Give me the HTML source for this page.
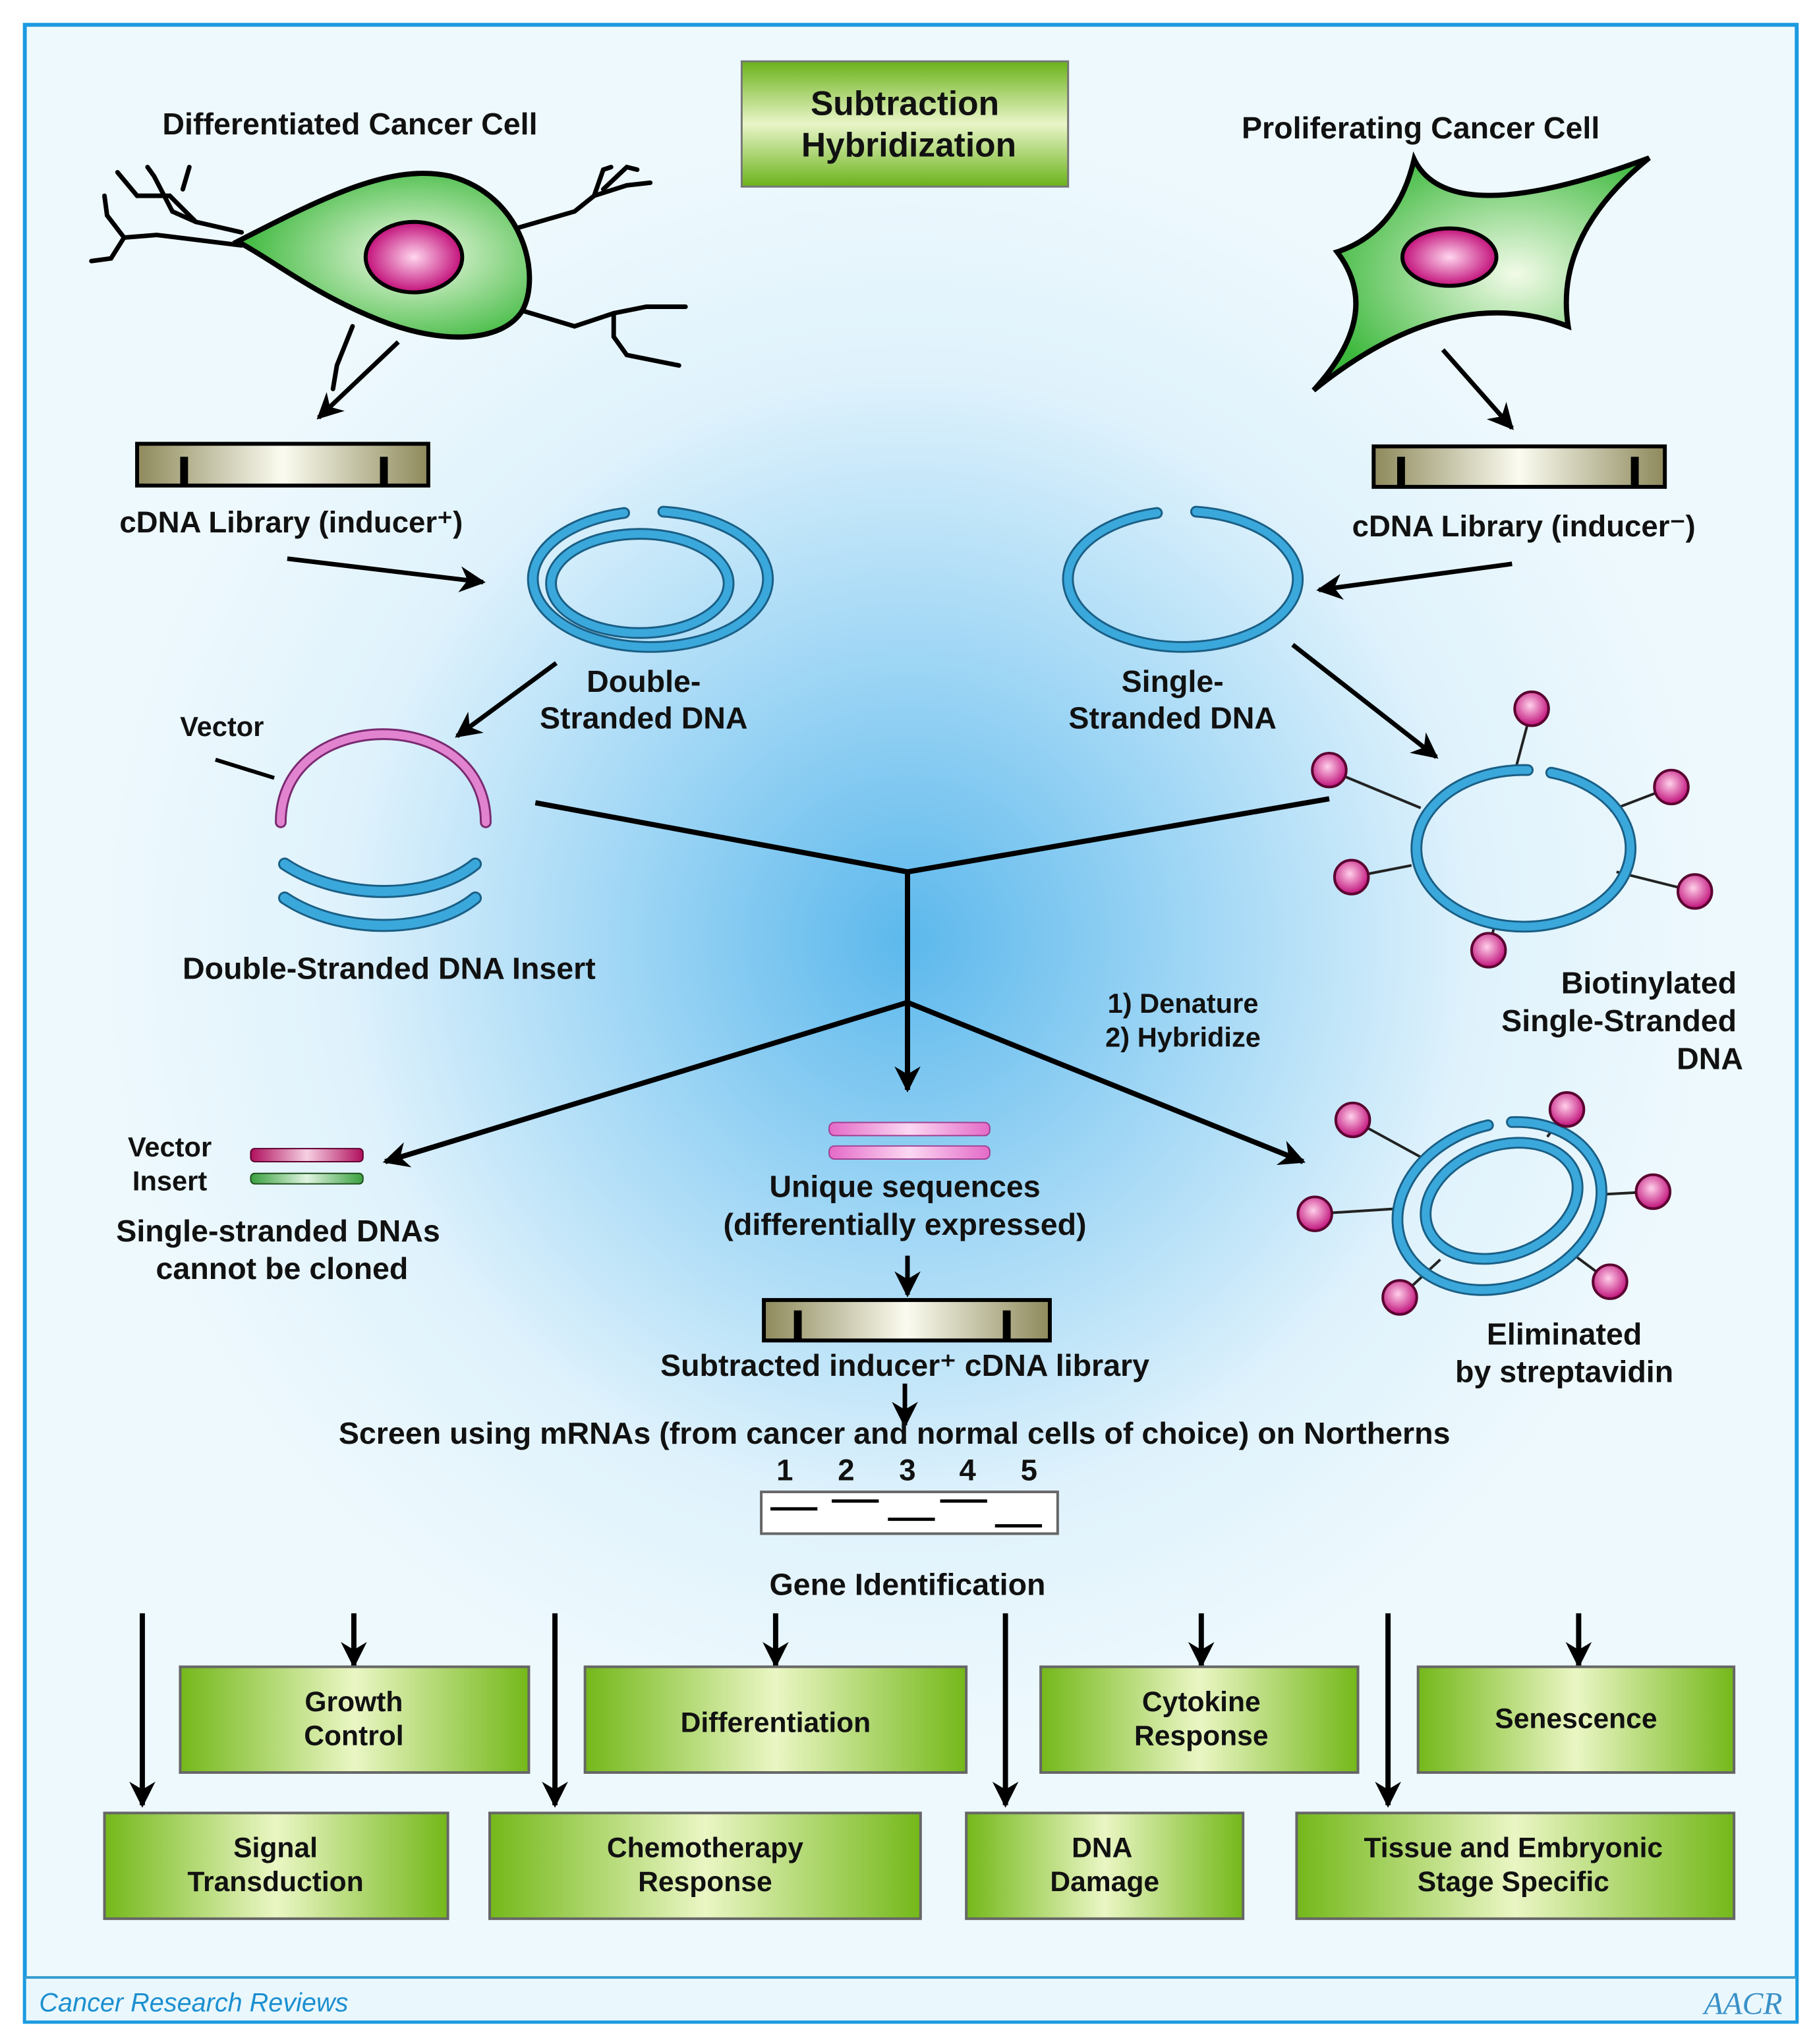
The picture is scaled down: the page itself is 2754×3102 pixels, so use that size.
<!DOCTYPE html>
<html><head><meta charset="utf-8"><style>
html,body{margin:0;padding:0;background:#fff;}
svg{display:block;}
text{font-family:"Liberation Sans",Arial,sans-serif;font-weight:bold;fill:#111;}
</style></head><body>
<svg width="2754" height="3102" viewBox="0 0 1390 1566" preserveAspectRatio="none" xmlns="http://www.w3.org/2000/svg">
<defs>
<radialGradient id="bg" cx="695" cy="720" r="620" gradientUnits="userSpaceOnUse">
<stop offset="0" stop-color="#5cb8ec"/><stop offset="0.35" stop-color="#9fd6f5"/><stop offset="0.7" stop-color="#dff2fc"/><stop offset="1" stop-color="#eef9fd"/></radialGradient>
<linearGradient id="gbox" x1="0" y1="0" x2="0" y2="1"><stop offset="0" stop-color="#6ab21a"/><stop offset="0.5" stop-color="#e9f5c8"/><stop offset="1" stop-color="#6ab21a"/></linearGradient>
<linearGradient id="gbox2" x1="0" y1="0" x2="1" y2="0"><stop offset="0" stop-color="#74b81a"/><stop offset="0.5" stop-color="#eaf6c4"/><stop offset="1" stop-color="#74b81a"/></linearGradient>
<linearGradient id="bar" x1="0" y1="0" x2="1" y2="0"><stop offset="0" stop-color="#8e8a5c"/><stop offset="0.5" stop-color="#fbfbf0"/><stop offset="1" stop-color="#8e8a5c"/></linearGradient>
<radialGradient id="cellg" cx="0.6" cy="0.5" r="0.6"><stop offset="0" stop-color="#f2fbe8"/><stop offset="1" stop-color="#3cb83c"/></radialGradient>
<radialGradient id="nuc" cx="0.5" cy="0.5" r="0.5"><stop offset="0" stop-color="#ffd6ee"/><stop offset="1" stop-color="#c2107a"/></radialGradient>
<radialGradient id="ball" cx="0.45" cy="0.4" r="0.6"><stop offset="0" stop-color="#ffd0ea"/><stop offset="1" stop-color="#c0107a"/></radialGradient>
<linearGradient id="pinkbar" x1="0" y1="0" x2="1" y2="0"><stop offset="0" stop-color="#e46ac8"/><stop offset="0.5" stop-color="#fbd8f2"/><stop offset="1" stop-color="#e46ac8"/></linearGradient>
<linearGradient id="magbar" x1="0" y1="0" x2="1" y2="0"><stop offset="0" stop-color="#b0105e"/><stop offset="0.5" stop-color="#f6d0e2"/><stop offset="1" stop-color="#b0105e"/></linearGradient>
<linearGradient id="grnbar" x1="0" y1="0" x2="1" y2="0"><stop offset="0" stop-color="#3aa040"/><stop offset="0.5" stop-color="#e0f4e0"/><stop offset="1" stop-color="#3aa040"/></linearGradient>
<marker id="a2" viewBox="0 0 10 10" refX="9" refY="5" markerWidth="22" markerHeight="20" orient="auto" markerUnits="userSpaceOnUse"><path d="M0,0 L10,5 L0,10 L3,5 Z" fill="#000"/></marker>
</defs>
<rect x="0" y="0" width="1390" height="1566" fill="#fff"/>
<rect x="19" y="19" width="1357" height="1530" fill="url(#bg)" stroke="#1b9ae0" stroke-width="3"/>
<rect x="20" y="1516" width="1355" height="32" fill="#eaf8fd"/>
<line x1="19" y1="1515" x2="1376" y2="1515" stroke="#3a9fd0" stroke-width="2"/>
<text x="30" y="1541" font-size="20" style="font-style:italic;font-weight:normal;fill:#1d8fd0">Cancer Research Reviews</text>
<text x="1305" y="1543" font-size="24" style="font-style:italic;font-weight:normal;fill:#3a90c8;font-family:'Liberation Serif',serif">AACR</text>

<!-- title -->
<rect x="568" y="47" width="250" height="96" fill="url(#gbox)" stroke="#777" stroke-width="1.5"/>
<text x="693" y="88" font-size="26" text-anchor="middle">Subtraction</text>
<text x="696" y="120" font-size="26" text-anchor="middle">Hybridization</text>

<text x="268" y="103" font-size="23.5" text-anchor="middle">Differentiated Cancer Cell</text>
<text x="1088" y="106" font-size="23.5" text-anchor="middle">Proliferating Cancer Cell</text>

<!-- left cell dendrites -->
<g fill="none" stroke="#000" stroke-width="3.5" stroke-linecap="round">
<path d="M185,178 L150,170 L130,150 L105,150 L90,132"/>
<path d="M150,170 L132,162 L118,135 L113,128"/>
<path d="M140,145 L145,128"/>
<path d="M185,188 L120,180 L95,182 L85,198 L70,200"/>
<path d="M95,182 L82,165 L80,150"/>
<path d="M395,175 L440,162 L455,150 L462,130 L468,128"/>
<path d="M455,150 L480,142 L498,140"/>
<path d="M462,145 L480,128 L488,130"/>
<path d="M400,238 L440,250 L470,240 L495,235 L525,235"/>
<path d="M470,240 L470,258 L480,272 L520,280"/>
<path d="M270,250 L258,280 L255,298"/>
</g>
<path d="M182,185 C250,150 300,125 345,135 C400,150 415,210 400,238 C385,262 340,265 290,245 C240,225 210,200 182,185 Z" fill="url(#cellg)" stroke="#000" stroke-width="4"/>
<ellipse cx="317" cy="197" rx="37" ry="27" fill="url(#nuc)" stroke="#000" stroke-width="3"/>

<!-- right cell -->
<path d="M1083,122 Q1110,178 1263,121 Q1190,180 1201,250 Q1110,215 1006,299 Q1060,240 1024,193 Q1070,178 1083,122 Z" fill="url(#cellg)" stroke="#000" stroke-width="4"/>
<ellipse cx="1110" cy="197" rx="36" ry="22" fill="url(#nuc)" stroke="#000" stroke-width="3"/>

<!-- arrows top -->
<g stroke="#000" stroke-width="3.5" fill="none">
<line x1="305" y1="262" x2="244" y2="320" marker-end="url(#a2)"/>
<line x1="1105" y1="268" x2="1158" y2="328" marker-end="url(#a2)"/>
<line x1="220" y1="428" x2="370" y2="446" marker-end="url(#a2)"/>
<line x1="1158" y1="432" x2="1010" y2="452" marker-end="url(#a2)"/>
<line x1="426" y1="508" x2="350" y2="564" marker-end="url(#a2)"/>
<line x1="990" y1="494" x2="1100" y2="580" marker-end="url(#a2)"/>
</g>

<!-- cDNA bars -->
<g stroke="#000" stroke-width="3">
<rect x="105" y="340" width="223" height="32" fill="url(#bar)"/>
<line x1="141" y1="350" x2="141" y2="372" stroke-width="6"/>
<line x1="294" y1="350" x2="294" y2="372" stroke-width="6"/>
<rect x="1052" y="342" width="223" height="31" fill="url(#bar)"/>
<line x1="1073" y1="350" x2="1073" y2="373" stroke-width="6"/>
<line x1="1252" y1="350" x2="1252" y2="373" stroke-width="6"/>
</g>
<text x="223" y="408" font-size="23" text-anchor="middle">cDNA Library (inducer⁺)</text>
<text x="1167" y="411" font-size="23" text-anchor="middle">cDNA Library (inducer⁻)</text>

<!-- DS DNA -->
<g fill="none" stroke-linecap="round">
<path d="M478,393 A90,52 0 1,0 508,392" stroke="#1a5f85" stroke-width="9"/>
<path d="M478,393 A90,52 0 1,0 508,392" stroke="#3ba8dc" stroke-width="6"/>
<ellipse cx="490" cy="447" rx="68" ry="38" stroke="#1a5f85" stroke-width="9"/>
<ellipse cx="490" cy="447" rx="68" ry="38" stroke="#3ba8dc" stroke-width="6"/>
<path d="M886,393 A88,52 0 1,0 916,392" stroke="#1a5f85" stroke-width="9"/>
<path d="M886,393 A88,52 0 1,0 916,392" stroke="#3ba8dc" stroke-width="6"/>
</g>
<text x="493" y="530" font-size="23.5" text-anchor="middle">Double-</text>
<text x="493" y="558" font-size="23.5" text-anchor="middle">Stranded DNA</text>
<text x="898" y="530" font-size="23.5" text-anchor="middle">Single-</text>
<text x="898" y="558" font-size="23.5" text-anchor="middle">Stranded DNA</text>

<!-- vector -->
<text x="170" y="564" font-size="21" text-anchor="middle">Vector</text>
<line x1="165" y1="582" x2="210" y2="596" stroke="#000" stroke-width="3"/>
<path d="M215,630 C215,540 372,540 372,630" fill="none" stroke="#7a2a70" stroke-width="9" stroke-linecap="round"/>
<path d="M215,630 C215,540 372,540 372,630" fill="none" stroke="#e283d0" stroke-width="6" stroke-linecap="round"/>
<path d="M218,662 C260,690 330,690 364,662" fill="none" stroke="#1a5f85" stroke-width="10" stroke-linecap="round"/>
<path d="M218,662 C260,690 330,690 364,662" fill="none" stroke="#3ba8dc" stroke-width="7" stroke-linecap="round"/>
<path d="M218,688 C260,716 330,716 364,688" fill="none" stroke="#1a5f85" stroke-width="10" stroke-linecap="round"/>
<path d="M218,688 C260,716 330,716 364,688" fill="none" stroke="#3ba8dc" stroke-width="7" stroke-linecap="round"/>
<text x="298" y="750" font-size="23.5" text-anchor="middle">Double-Stranded DNA Insert</text>

<!-- central lines -->
<g stroke="#000" stroke-width="4" fill="none">
<polyline points="410,615 695,668 1018,612"/>
<line x1="695" y1="668" x2="695" y2="768"/>
<line x1="695" y1="768" x2="695" y2="835" marker-end="url(#a2)"/>
<line x1="695" y1="768" x2="295" y2="890" marker-end="url(#a2)"/>
<line x1="695" y1="768" x2="998" y2="890" marker-end="url(#a2)"/>
</g>
<text x="906" y="776" font-size="21" text-anchor="middle">1) Denature</text>
<text x="906" y="802" font-size="21" text-anchor="middle">2) Hybridize</text>

<!-- biotinylated -->
<g stroke="#222" stroke-width="2">
<line x1="1161" y1="588" x2="1173" y2="543"/><line x1="1233" y1="621" x2="1280" y2="603"/>
<line x1="1238" y1="668" x2="1298" y2="683"/><line x1="1145" y1="707" x2="1140" y2="728"/>
<line x1="1081" y1="663" x2="1035" y2="672"/><line x1="1088" y1="619" x2="1018" y2="590"/>
</g>
<g fill="none" stroke-linecap="round">
<path d="M1170,590 A82,60 0 1,0 1188,592" stroke="#1a5f85" stroke-width="9"/>
<path d="M1170,590 A82,60 0 1,0 1188,592" stroke="#3ba8dc" stroke-width="6"/>
</g>
<g fill="url(#ball)" stroke="#5a0030" stroke-width="2">
<circle cx="1173" cy="543" r="13"/><circle cx="1280" cy="603" r="13"/><circle cx="1298" cy="683" r="13"/>
<circle cx="1140" cy="728" r="13"/><circle cx="1035" cy="672" r="13"/><circle cx="1018" cy="590" r="13"/>
</g>
<text x="1330" y="761" font-size="23.5" text-anchor="end">Biotinylated</text>
<text x="1330" y="790" font-size="23.5" text-anchor="end">Single-Stranded</text>
<text x="1335" y="819" font-size="23.5" text-anchor="end">DNA</text>

<!-- vector/insert -->
<text x="130" y="886" font-size="21" text-anchor="middle">Vector</text>
<text x="130" y="912" font-size="21" text-anchor="middle">Insert</text>
<rect x="192" y="880" width="86" height="10" rx="3" fill="url(#magbar)" stroke="#600030" stroke-width="1"/>
<rect x="192" y="899" width="86" height="8" rx="3" fill="url(#grnbar)" stroke="#205020" stroke-width="1"/>
<text x="213" y="951" font-size="23.5" text-anchor="middle">Single-stranded DNAs</text>
<text x="216" y="980" font-size="23.5" text-anchor="middle">cannot be cloned</text>

<!-- unique -->
<rect x="635" y="860" width="123" height="10" rx="4" fill="url(#pinkbar)" stroke="#a04090" stroke-width="1"/>
<rect x="635" y="878" width="123" height="10" rx="4" fill="url(#pinkbar)" stroke="#a04090" stroke-width="1"/>
<text x="693" y="917" font-size="23.5" text-anchor="middle">Unique sequences</text>
<text x="693" y="946" font-size="23.5" text-anchor="middle">(differentially expressed)</text>
<line x1="695" y1="962" x2="695" y2="992" stroke="#000" stroke-width="3.5" marker-end="url(#a2)"/>
<rect x="585" y="996" width="219" height="31" fill="url(#bar)" stroke="#000" stroke-width="3"/>
<line x1="611" y1="1004" x2="611" y2="1027" stroke="#000" stroke-width="6"/>
<line x1="771" y1="1004" x2="771" y2="1027" stroke="#000" stroke-width="6"/>
<text x="693" y="1054" font-size="23.5" text-anchor="middle">Subtracted inducer⁺ cDNA library</text>
<line x1="693" y1="1060" x2="693" y2="1092" stroke="#000" stroke-width="3.5" marker-end="url(#a2)"/>
<text x="685" y="1106" font-size="23.5" text-anchor="middle">Screen using mRNAs (from cancer and normal cells of choice) on Northerns</text>
<g font-size="23" text-anchor="middle">
<text x="601" y="1134">1</text><text x="648" y="1134">2</text><text x="695" y="1134">3</text><text x="741" y="1134">4</text><text x="788" y="1134">5</text>
</g>
<rect x="583" y="1143" width="227" height="32" fill="#fff" stroke="#666" stroke-width="2"/>
<g stroke="#000" stroke-width="2.5">
<line x1="590" y1="1156" x2="626" y2="1156"/><line x1="637" y1="1150" x2="673" y2="1150"/>
<line x1="680" y1="1164" x2="716" y2="1164"/><line x1="720" y1="1150" x2="756" y2="1150"/>
<line x1="762" y1="1169" x2="798" y2="1169"/>
</g>

<!-- eliminated -->
<g stroke="#222" stroke-width="2">
<line x1="1089" y1="887" x2="1036" y2="858"/><line x1="1185" y1="871" x2="1200" y2="850"/>
<line x1="1228" y1="915" x2="1266" y2="913"/><line x1="1202" y1="959" x2="1233" y2="982"/>
<line x1="1103" y1="965" x2="1072" y2="994"/><line x1="1070" y1="926" x2="1007" y2="930"/>
</g>
<g fill="none" stroke-linecap="round">
<path d="M1160,862 A80,62 0 1,0 1178,866" stroke="#1a5f85" stroke-width="9" transform="rotate(-20 1150 920)"/>
<path d="M1160,862 A80,62 0 1,0 1178,866" stroke="#3ba8dc" stroke-width="6" transform="rotate(-20 1150 920)"/>
<ellipse cx="1150" cy="920" rx="60" ry="42" stroke="#1a5f85" stroke-width="9" transform="rotate(-20 1150 920)"/>
<ellipse cx="1150" cy="920" rx="60" ry="42" stroke="#3ba8dc" stroke-width="6" transform="rotate(-20 1150 920)"/>
</g>
<g fill="url(#ball)" stroke="#5a0030" stroke-width="2">
<circle cx="1036" cy="858" r="13"/><circle cx="1200" cy="850" r="13"/><circle cx="1266" cy="913" r="13"/>
<circle cx="1233" cy="982" r="13"/><circle cx="1072" cy="994" r="13"/><circle cx="1007" cy="930" r="13"/>
</g>
<text x="1198" y="1030" font-size="23.5" text-anchor="middle">Eliminated</text>
<text x="1198" y="1059" font-size="23.5" text-anchor="middle">by streptavidin</text>

<text x="695" y="1222" font-size="23.5" text-anchor="middle">Gene Identification</text>

<!-- gene arrows -->
<g stroke="#000" stroke-width="4">
<line x1="271" y1="1236" x2="271" y2="1276" marker-end="url(#a2)"/>
<line x1="594" y1="1236" x2="594" y2="1276" marker-end="url(#a2)"/>
<line x1="920" y1="1236" x2="920" y2="1276" marker-end="url(#a2)"/>
<line x1="1209" y1="1236" x2="1209" y2="1276" marker-end="url(#a2)"/>
<line x1="109" y1="1236" x2="109" y2="1383" marker-end="url(#a2)"/>
<line x1="425" y1="1236" x2="425" y2="1383" marker-end="url(#a2)"/>
<line x1="770" y1="1236" x2="770" y2="1383" marker-end="url(#a2)"/>
<line x1="1063" y1="1236" x2="1063" y2="1383" marker-end="url(#a2)"/>
</g>

<!-- gene boxes -->
<g stroke="#666" stroke-width="2">
<rect x="138" y="1277" width="267" height="81" fill="url(#gbox2)"/>
<rect x="448" y="1277" width="292" height="81" fill="url(#gbox2)"/>
<rect x="797" y="1277" width="243" height="81" fill="url(#gbox2)"/>
<rect x="1086" y="1277" width="242" height="81" fill="url(#gbox2)"/>
<rect x="80" y="1389" width="263" height="81" fill="url(#gbox2)"/>
<rect x="375" y="1389" width="330" height="81" fill="url(#gbox2)"/>
<rect x="740" y="1389" width="212" height="81" fill="url(#gbox2)"/>
<rect x="993" y="1389" width="335" height="81" fill="url(#gbox2)"/>
</g>
<g font-size="21.5" text-anchor="middle" style="fill:#1a1a1a">
<text x="271" y="1311">Growth</text><text x="271" y="1337">Control</text>
<text x="594" y="1327">Differentiation</text>
<text x="920" y="1311">Cytokine</text><text x="920" y="1337">Response</text>
<text x="1207" y="1324">Senescence</text>
<text x="211" y="1423">Signal</text><text x="211" y="1449">Transduction</text>
<text x="540" y="1423">Chemotherapy</text><text x="540" y="1449">Response</text>
<text x="844" y="1423">DNA</text><text x="846" y="1449">Damage</text>
<text x="1159" y="1423">Tissue and Embryonic</text><text x="1159" y="1449">Stage Specific</text>
</g>
</svg>
</body></html>
